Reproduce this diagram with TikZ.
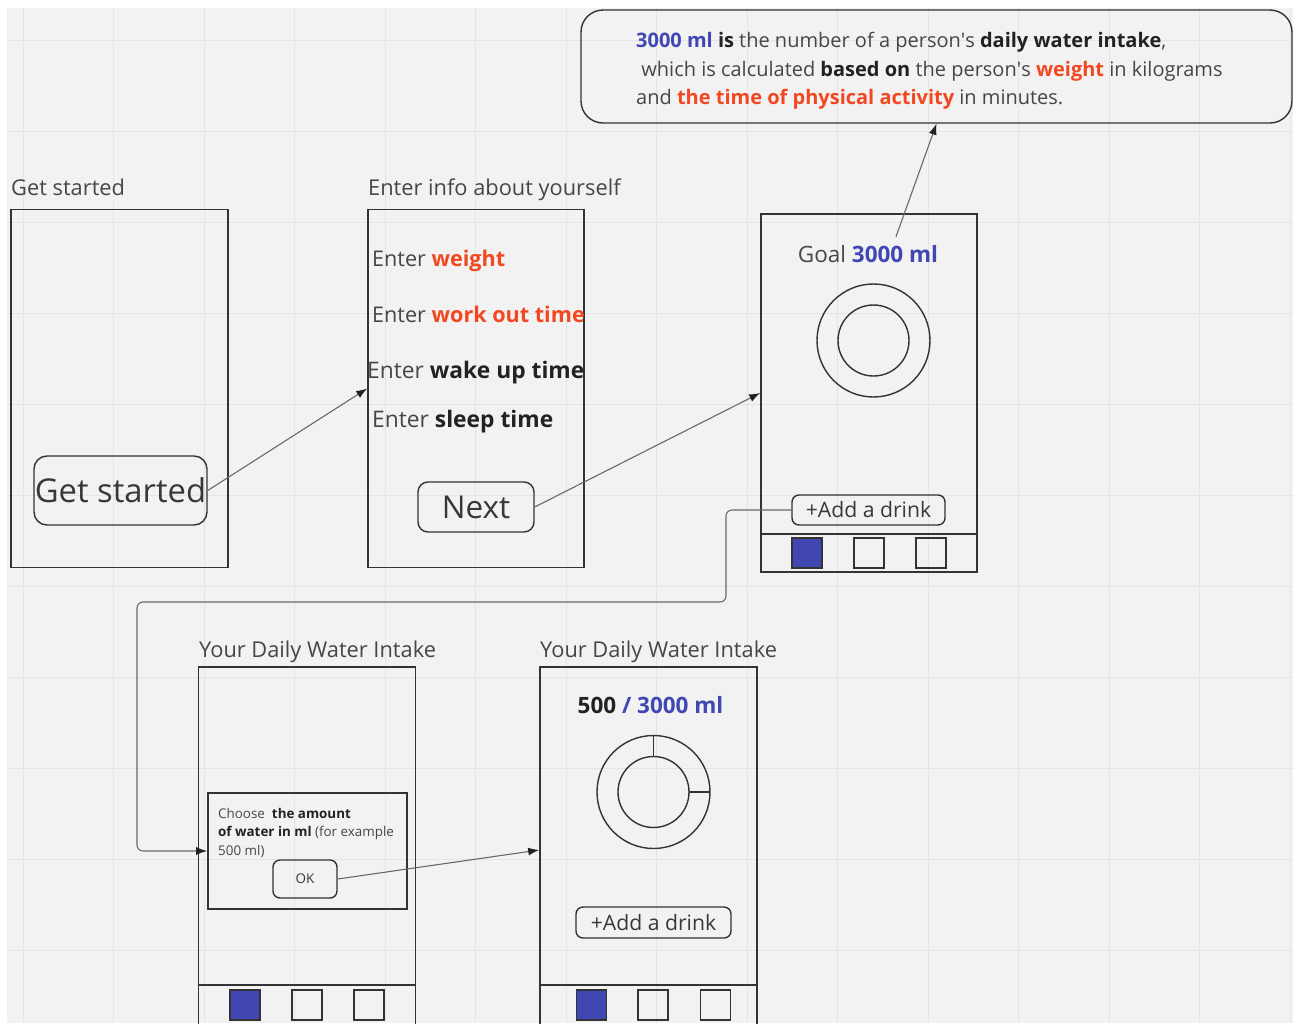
\documentclass[tikz,border=0pt]{standalone}
\usepackage{fontspec}
\setmainfont{Open Sans}
\usepackage{tikz}
\usetikzlibrary{positioning}
\usetikzlibrary{arrows.meta}
\usepackage{xcolor}

\definecolor{appblue}{RGB}{64,71,178}
\definecolor{appred}{RGB}{242,72,34}
\definecolor{labelgray}{RGB}{70,70,70}
\definecolor{inkdark}{RGB}{34,34,34}
\definecolor{framegray}{RGB}{51,51,51}
\definecolor{boardgray}{RGB}{242,242,242}
\definecolor{gridgray}{RGB}{229,229,229}
\definecolor{wiregray}{RGB}{105,105,105}

\newcommand{\redbf}[1]{\textbf{\color{appred}#1}}
\newcommand{\bluebf}[1]{\textbf{\color{appblue}#1}}
\newcommand{\darkbf}[1]{\textbf{\color{inkdark}#1}}

\tikzset{
  screen/.style={draw=framegray, line width=1.6pt, minimum width=217pt, minimum height=358pt, inner sep=0pt},
  title/.style={anchor=base west, inner sep=0pt, text=labelgray, font=\fontsize{21.8}{25}\selectfont},
  entry/.style={anchor=base west, inner sep=0pt, text=labelgray, font=\fontsize{22}{26}\selectfont},
  button/.style={draw=framegray, line width=1.4pt, rounded corners=8pt, inner sep=0pt, text=inkdark!90},
  tab/.style={draw=framegray, line width=1.4pt, minimum size=30pt, inner sep=0pt},
  ring/.style={draw=framegray, line width=1.4pt},
  frame/.style={draw=framegray, line width=1.6pt},
  link/.style={draw=wiregray, line width=1.1pt, -{Latex[length=11pt,width=8pt,color=inkdark]}},
  gridline/.style={draw=gridgray, line width=1pt},
}

\begin{document}
\begin{tikzpicture}[x=1pt,y=-1pt]
\useasboundingbox (0,0) rectangle (1293,1023);
\clip (0,0) rectangle (1293,1023);
\fill[white] (0,0) rectangle (1293,1023);
\fill[boardgray] (7,8) rectangle (1293,1023);
\foreach \gx in {0,...,14}
  \draw[gridline] ({23+90.5*\gx},8) -- ({23+90.5*\gx},1023);
\foreach \gy in {0,...,10}
  \draw[gridline] (7,{40+91*\gy}) -- (1293,{40+91*\gy});

% screen 1: get started
\node[screen] (start) at (119.5,388.5) {};
\node[title] at (11,195) {Get started};
\node[button, minimum width=173pt, minimum height=69pt, rounded corners=13pt,
  font=\fontsize{32.8}{37}\selectfont] (startbtn) at (120.5,490.5) {Get started};

% screen 2: info about yourself
\node[screen, minimum width=216pt] (about) at (476,388.5) {};
\node[title] at (368,195) {Enter info about yourself};
\node[entry, font=\fontsize{21.6}{26}\selectfont] (weight) at (372,266) {Enter \redbf{weight}};
\node[entry, font=\fontsize{21.6}{26}\selectfont] (workout) at (372,322) {Enter \redbf{work out time}};
\node[entry, font=\fontsize{22.8}{26}\selectfont] (wakeup) at (367,378) {Enter \darkbf{wake up time}};
\node[entry, font=\fontsize{22.8}{26}\selectfont] (sleep) at (372,427) {Enter \darkbf{sleep time}};
\node[button, minimum width=116pt, minimum height=50pt, rounded corners=10pt,
  font=\fontsize{31.5}{35}\selectfont] (next) at (476,507) {Next};

% screen 3: goal
\node[screen, minimum width=216pt] (goal) at (869,393) {};
\node[entry, anchor=base, font=\fontsize{22.5}{26}\selectfont] (goaltext) at (868,262) {Goal \bluebf{3000 ml}};
\draw[ring] (873.5,340.5) circle[radius=56.5pt];
\draw[ring] (873.5,340.5) circle[radius=35.5pt];
\node[button, minimum width=153pt, minimum height=30pt, rounded corners=7pt,
  font=\fontsize{21.2}{24}\selectfont] (adddrink) at (868.5,510) {+Add a drink};
\draw[frame] (goal.west |- 0,534) -- (goal.east |- 0,534);
\node[tab, fill=appblue] (goaltab1) at (807,553) {};
\node[tab] (goaltab2) at (869,553) {};
\node[tab] (goaltab3) at (931,553) {};

% screen 4: choose amount
\node[screen, minimum width=217pt, minimum height=366pt] (choose) at (307,850) {};
\node[title] at (199,657) {Your Daily Water Intake};
\node[frame, minimum width=199pt, minimum height=116pt, inner sep=0pt] (dlg) at (307.5,851) {};
\node[anchor=north west, inner sep=0pt, align=left, text=labelgray,
  font=\fontsize{13.4}{18.5}\selectfont] (dlgtext) at (218,808)
  {Choose \ \darkbf{the amount}\\\darkbf{of water in ml} (for example\\500 ml)};
\node[button, minimum width=64pt, minimum height=38pt, rounded corners=7pt,
  font=\fontsize{13.4}{15}\selectfont] (ok) at (305,879) {OK};
\draw[frame] (choose.west |- 0,985) -- (choose.east |- 0,985);
\node[tab, fill=appblue] (choosetab1) at (245,1005) {};
\node[tab] (choosetab2) at (307,1005) {};
\node[tab] (choosetab3) at (369,1005) {};

% screen 5: progress
\node[screen, minimum width=217pt, minimum height=366pt] (progress) at (648.5,850) {};
\node[title] at (540,657) {Your Daily Water Intake};
\node[entry, anchor=base, font=\fontsize{22.5}{26}\selectfont] (count) at (650.5,713) {\darkbf{500} \bluebf{/ 3000 ml}};
\draw[ring] (653.5,792) circle[radius=56.5pt];
\draw[ring] (653.5,792) circle[radius=35.5pt];
\draw[ring] (653.5,735.5) -- (653.5,756.5);
\draw[ring] (689,792) -- (710,792);
\node[button, minimum width=155pt, minimum height=31pt, rounded corners=7pt,
  font=\fontsize{21.2}{24}\selectfont] (adddrink2) at (653.5,922.5) {+Add a drink};
\draw[frame] (progress.west |- 0,985) -- (progress.east |- 0,985);
\node[tab, fill=appblue] (progresstab1) at (591.5,1005) {};
\node[tab] (progresstab2) at (653,1005) {};
\node[tab] (progresstab3) at (715.5,1005) {};

% note on the daily intake
\node[draw=framegray, line width=1.4pt, rounded corners=22pt, minimum width=711pt,
  minimum height=113pt, inner sep=0pt] (facts) at (936.5,66.5) {};
\node[anchor=north west, inner sep=0pt, align=left, text=labelgray,
  font=\fontsize{20}{28.5}\selectfont] (factstext) at (636,32)
  {\bluebf{3000 ml} \darkbf{is} the number of a person\textquotesingle s \darkbf{daily water intake},\\
   \ which is calculated \darkbf{based on} the person\textquotesingle s \redbf{weight} in kilograms\\
   and \redbf{the time of physical activity} in minutes.};

% connectors
\draw[link] (startbtn.east) -- (about.west);
\draw[link] (next.east) -- (goal.west);
\draw[link] ([xshift=28pt,yshift=8pt]goaltext.north) -- (facts.south);
\coordinate (bendA) at (726,602);
\coordinate (bendB) at (137,602);
\draw[link, rounded corners=6pt] (adddrink.west) -| (bendA) -- (bendB) |- (dlg.west);
\draw[link] (ok.east) -- (progress.west);
\end{tikzpicture}
\end{document}
